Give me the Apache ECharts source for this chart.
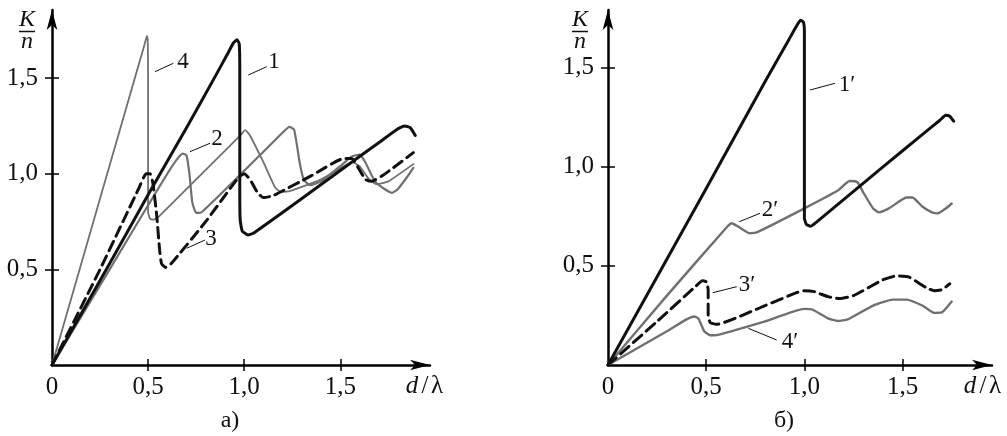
<!DOCTYPE html>
<html>
<head>
<meta charset="utf-8">
<script src="https://cdn.jsdelivr.net/npm/echarts@6/dist/echarts.min.js"></script>
<style>
  html, body { margin: 0; padding: 0; background: #fff; }
  #main { width: 1007px; height: 436px; }
</style>
</head>
<body>
<div id="main"></div>
<script>
// --- data (d/lambda, K/n) ---
const xTicks = [0.5, 1, 1.5];
const xLabels = [0, 0.5, 1, 1.5];
const yTicks = [0.5, 1, 1.5];

// panel a)
const curve1 = [[0,0],[0.3,0.53],[0.5,0.89],[0.7,1.24],[0.85,1.51],[0.91,1.62],[0.945,1.685],[0.962,1.70],[0.974,1.68],[0.977,1.55],[0.977,0.9],[0.979,0.76],[0.99,0.70],[1.02,0.68],[1.05,0.69],[1.3,0.87],[1.5,1.017],[1.7,1.162],[1.8,1.235],[1.835,1.25],[1.865,1.24],[1.89,1.20]];
const curve2 = [[0,0],[0.3,0.5],[0.5,0.835],[0.6,1.0],[0.65,1.075],[0.68,1.105],[0.7,1.095],[0.715,1.0],[0.73,0.85],[0.75,0.795],[0.78,0.80],[1.0,1.015],[1.2,1.215],[1.235,1.245],[1.26,1.23],[1.29,1.05],[1.31,0.97],[1.34,0.94],[1.4,0.96],[1.5,1.04],[1.56,1.09],[1.6,1.1],[1.63,1.06],[1.68,0.96],[1.73,0.92],[1.77,0.90],[1.8,0.92],[1.86,1.0],[1.88,1.03]];
const curve3 = [[0,0],[0.25,0.5],[0.45,0.92],[0.49,1.0],[0.51,1.0],[0.525,0.95],[0.545,0.78],[0.56,0.6],[0.57,0.53],[0.59,0.51],[0.62,0.53],[0.8,0.75],[0.97,0.98],[1.0,1.0],[1.03,0.97],[1.07,0.9],[1.1,0.875],[1.15,0.885],[1.35,0.99],[1.52,1.08],[1.56,1.08],[1.6,1.02],[1.63,0.97],[1.66,0.96],[1.72,0.99],[1.88,1.11]];
const curve4 = [[0,0],[0.25,0.87],[0.48,1.67],[0.494,1.72],[0.498,1.70],[0.5,1.5],[0.5,0.8],[0.51,0.765],[0.53,0.76],[0.56,0.78],[0.8,1.02],[0.98,1.2],[1.005,1.228],[1.03,1.2],[1.1,1.06],[1.16,0.93],[1.19,0.905],[1.24,0.91],[1.4,0.97],[1.52,1.04],[1.56,1.06],[1.6,1.04],[1.65,0.97],[1.69,0.945],[1.75,0.96],[1.88,1.05]];

// panel б)
const curve1b = [[0,0],[0.5,0.89],[0.8,1.43],[0.92,1.64],[0.96,1.71],[0.98,1.74],[0.995,1.73],[1.0,1.68],[1.0,1.0],[1.0,0.74],[1.01,0.71],[1.03,0.70],[1.06,0.72],[1.4,1.0],[1.6,1.162],[1.69,1.235],[1.72,1.26],[1.74,1.255],[1.76,1.23]];
const curve2b = [[0,0],[0.3,0.35],[0.6,0.69],[0.63,0.715],[0.66,0.70],[0.72,0.665],[0.76,0.67],[1.0,0.79],[1.17,0.88],[1.23,0.928],[1.27,0.922],[1.3,0.87],[1.35,0.79],[1.38,0.77],[1.43,0.79],[1.52,0.845],[1.55,0.845],[1.6,0.8],[1.65,0.77],[1.68,0.765],[1.72,0.79],[1.75,0.815]];
const curve3b = [[0,0],[0.25,0.22],[0.45,0.40],[0.48,0.425],[0.5,0.42],[0.51,0.38],[0.51,0.25],[0.52,0.215],[0.55,0.205],[0.8,0.3],[0.96,0.365],[1.0,0.375],[1.05,0.37],[1.12,0.345],[1.18,0.335],[1.25,0.35],[1.4,0.43],[1.47,0.45],[1.53,0.445],[1.62,0.39],[1.66,0.375],[1.7,0.38],[1.74,0.41]];
const curve4b = [[0,0],[0.3,0.17],[0.4,0.23],[0.44,0.245],[0.46,0.235],[0.49,0.17],[0.52,0.15],[0.56,0.152],[0.8,0.22],[1.0,0.283],[1.04,0.28],[1.12,0.235],[1.17,0.222],[1.22,0.23],[1.35,0.3],[1.45,0.33],[1.52,0.33],[1.6,0.3],[1.66,0.263],[1.7,0.265],[1.75,0.32]];

const FONT = 'Liberation Serif';
const BLACK = '#111';
const GRAY = '#707070';

let chart = echarts.init(document.getElementById('main'));

const fmt = (v) => v === 0 ? '0' : v.toFixed(1).replace('.', ',');

// main axis + a second one that only draws the other half of each tick
const xAxes = (grid, max) => [
  {
    gridIndex: grid, type: 'value', min: 0, max: max, position: 'bottom',
    axisLine: { show: true, symbol: ['none', 'arrow'], symbolSize: [8, 20], lineStyle: { color: '#000', width: 2.5 } },
    axisTick: { show: true, customValues: xTicks, length: 6, lineStyle: { color: '#000', width: 1.5 } },
    axisLabel: { customValues: xLabels, formatter: fmt, fontFamily: FONT, fontSize: 25, color: '#111', margin: 10 },
    splitLine: { show: false },
  },
  {
    gridIndex: grid, type: 'value', min: 0, max: max, position: 'top',
    axisLine: { show: false, onZero: true },
    axisTick: { show: true, customValues: xTicks, length: 6, lineStyle: { color: '#000', width: 1.5 } },
    axisLabel: { show: false },
    splitLine: { show: false },
  },
];
const yAxes = (grid, max) => [
  {
    gridIndex: grid, type: 'value', min: 0, max: max, position: 'left',
    axisLine: { show: true, symbol: ['none', 'arrow'], symbolSize: [8, 20], lineStyle: { color: '#000', width: 2.5 } },
    axisTick: { show: true, customValues: yTicks, length: 7, lineStyle: { color: '#000', width: 1.5 } },
    axisLabel: { customValues: yTicks, formatter: fmt, fontFamily: FONT, fontSize: 25, color: '#111', margin: 14 },
    splitLine: { show: false },
  },
  {
    gridIndex: grid, type: 'value', min: 0, max: max, position: 'right',
    axisLine: { show: false, onZero: true },
    axisTick: { show: true, customValues: yTicks, length: 7, lineStyle: { color: '#000', width: 1.5 } },
    axisLabel: { show: false },
    splitLine: { show: false },
  },
];

const line = (data, xi, yi, color, width, type) => ({
  type: 'line', xAxisIndex: xi, yAxisIndex: yi, data: data,
  showSymbol: false, smooth: 0.15, silent: true, z: color === GRAY ? 2 : 3,
  lineStyle: { color: color, width: width, type: type || 'solid', cap: 'round', join: 'round' },
});

const txt = (x, y, s, size, italic) => ({
  type: 'text', x: x, y: y,
  style: { text: s, fontFamily: FONT, fontSize: size || 23, fontStyle: italic ? 'italic' : 'normal',
           fill: '#111', align: 'center', verticalAlign: 'middle' },
});
const seg = (x1, y1, x2, y2, w) => ({
  type: 'line', shape: { x1: x1, y1: y1, x2: x2, y2: y2 }, style: { stroke: '#111', lineWidth: w || 1 },
});

let option = {
  backgroundColor: '#fff',
  animation: false,
  grid: [
    { left: 52, top: 10, width: 378, height: 355 },
    { left: 608, top: 10, width: 384, height: 355 },
  ],
  xAxis: [...xAxes(0, 378 / 192.2), ...xAxes(1, 384 / 196.4)],
  yAxis: [...yAxes(0, 355 / 191.3), ...yAxes(1, 355 / 198.2)],
  series: [
    line(curve4, 0, 0, GRAY, 1.8),
    line(curve2, 0, 0, GRAY, 2.2),
    line(curve3, 0, 0, BLACK, 3, [10, 6]),
    line(curve1, 0, 0, BLACK, 3),
    line(curve2b, 2, 2, GRAY, 2.4),
    line(curve4b, 2, 2, GRAY, 2.4),
    line(curve3b, 2, 2, BLACK, 3, [11, 6]),
    line(curve1b, 2, 2, BLACK, 3),
  ],
  graphic: [
    // axis names
    txt(27, 20, 'K', 24, true), seg(19, 31.5, 35, 31.5, 1.5), txt(27, 42, 'n', 24, true),
    txt(412, 386, 'd', 25, true), txt(425, 386, '/', 25), txt(437, 386, 'λ', 25),
    txt(580, 20, 'K', 24, true), seg(572, 31.5, 588, 31.5, 1.5), txt(580, 42, 'n', 24, true),
    txt(970, 386, 'd', 25, true), txt(983, 386, '/', 25), txt(995, 386, 'λ', 25),
    txt(230, 421, 'а)', 24), txt(784, 421, 'б)', 24),
    // curve labels a)
    seg(155, 71.7, 173.3, 63.3), txt(183, 62, '4'),
    seg(248.3, 75, 266.7, 66.7), txt(274, 62, '1'),
    seg(190, 151.7, 210, 143.3), txt(217, 139, '2'),
    seg(186.7, 248.3, 205, 240), txt(211, 239, '3'),
    // curve labels б)
    seg(810, 90, 835, 83.3), txt(847, 85, '1′'),
    seg(739.3, 221.7, 760, 213.3), txt(770, 210, '2′'),
    seg(712.7, 292.7, 736.7, 286.7), txt(747, 285, '3′'),
    seg(748.3, 328.3, 776.7, 340), txt(790, 342, '4′'),
  ],
};
chart.setOption(option);
</script>
</body>
</html>
